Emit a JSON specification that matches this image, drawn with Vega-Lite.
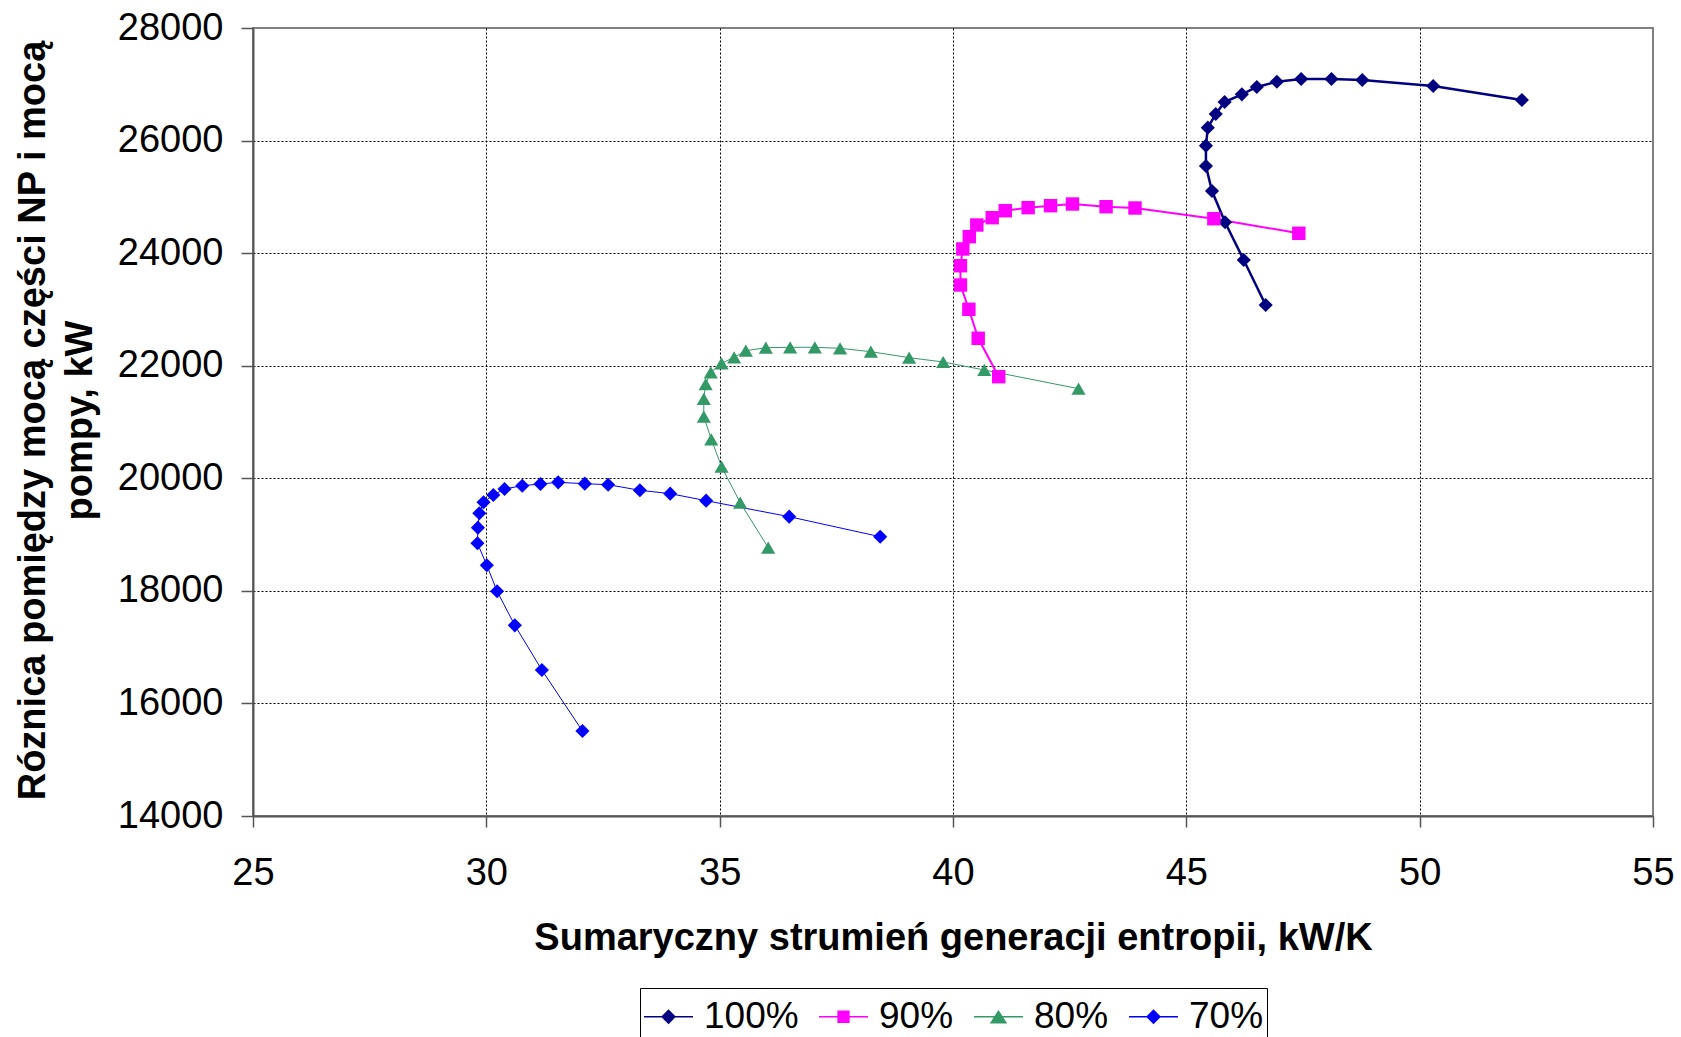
{
  "$schema": "https://vega.github.io/schema/vega-lite/v6.json",
  "autosize": {"type": "none"},
  "width": 1400,
  "height": 788,
  "padding": {"left": 253, "top": 28, "right": 28, "bottom": 221},
  "background": "white",
  "config": {
    "view": {"stroke": "#808080", "strokeWidth": 2},
    "font": "Liberation Sans",
    "axis": {
      "labelFont": "Liberation Sans",
      "labelFontSize": 38,
      "labelColor": "#000",
      "titleFont": "Liberation Sans",
      "titleFontSize": 38,
      "titleFontWeight": "bold",
      "titleColor": "#000",
      "domainColor": "#555",
      "domainWidth": 2,
      "tickColor": "#555",
      "tickWidth": 1.5,
      "gridColor": "#000",
      "gridWidth": 1,
      "gridDash": [2, 2]
    }
  },
  "data": {
    "values": [
      {"s": "100%", "i": 1, "x": 46.70, "y": 23079},
      {"s": "100%", "i": 2, "x": 46.23, "y": 23878},
      {"s": "100%", "i": 3, "x": 45.83, "y": 24548},
      {"s": "100%", "i": 4, "x": 45.55, "y": 25104},
      {"s": "100%", "i": 5, "x": 45.42, "y": 25548},
      {"s": "100%", "i": 6, "x": 45.42, "y": 25909},
      {"s": "100%", "i": 7, "x": 45.46, "y": 26229},
      {"s": "100%", "i": 8, "x": 45.63, "y": 26472},
      {"s": "100%", "i": 9, "x": 45.82, "y": 26685},
      {"s": "100%", "i": 10, "x": 46.19, "y": 26822},
      {"s": "100%", "i": 11, "x": 46.51, "y": 26952},
      {"s": "100%", "i": 12, "x": 46.94, "y": 27046},
      {"s": "100%", "i": 13, "x": 47.46, "y": 27094},
      {"s": "100%", "i": 14, "x": 48.11, "y": 27094},
      {"s": "100%", "i": 15, "x": 48.77, "y": 27076},
      {"s": "100%", "i": 16, "x": 50.29, "y": 26970},
      {"s": "100%", "i": 17, "x": 52.19, "y": 26721},
      {"s": "90%", "i": 1, "x": 40.98, "y": 21805},
      {"s": "90%", "i": 2, "x": 40.54, "y": 22487},
      {"s": "90%", "i": 3, "x": 40.34, "y": 23002},
      {"s": "90%", "i": 4, "x": 40.16, "y": 23434},
      {"s": "90%", "i": 5, "x": 40.16, "y": 23777},
      {"s": "90%", "i": 6, "x": 40.21, "y": 24074},
      {"s": "90%", "i": 7, "x": 40.35, "y": 24293},
      {"s": "90%", "i": 8, "x": 40.51, "y": 24500},
      {"s": "90%", "i": 9, "x": 40.84, "y": 24630},
      {"s": "90%", "i": 10, "x": 41.12, "y": 24754},
      {"s": "90%", "i": 11, "x": 41.61, "y": 24808},
      {"s": "90%", "i": 12, "x": 42.09, "y": 24843},
      {"s": "90%", "i": 13, "x": 42.56, "y": 24873},
      {"s": "90%", "i": 14, "x": 43.28, "y": 24825},
      {"s": "90%", "i": 15, "x": 43.90, "y": 24802},
      {"s": "90%", "i": 16, "x": 45.59, "y": 24612},
      {"s": "90%", "i": 17, "x": 47.41, "y": 24353},
      {"s": "80%", "i": 1, "x": 36.04, "y": 18767},
      {"s": "80%", "i": 2, "x": 35.44, "y": 19567},
      {"s": "80%", "i": 3, "x": 35.04, "y": 20207},
      {"s": "80%", "i": 4, "x": 34.82, "y": 20693},
      {"s": "80%", "i": 5, "x": 34.66, "y": 21095},
      {"s": "80%", "i": 6, "x": 34.66, "y": 21409},
      {"s": "80%", "i": 7, "x": 34.70, "y": 21675},
      {"s": "80%", "i": 8, "x": 34.81, "y": 21883},
      {"s": "80%", "i": 9, "x": 35.04, "y": 22043},
      {"s": "80%", "i": 10, "x": 35.31, "y": 22149},
      {"s": "80%", "i": 11, "x": 35.56, "y": 22267},
      {"s": "80%", "i": 12, "x": 35.99, "y": 22320},
      {"s": "80%", "i": 13, "x": 36.51, "y": 22327},
      {"s": "80%", "i": 14, "x": 37.04, "y": 22327},
      {"s": "80%", "i": 15, "x": 37.58, "y": 22309},
      {"s": "80%", "i": 16, "x": 38.24, "y": 22249},
      {"s": "80%", "i": 17, "x": 39.06, "y": 22143},
      {"s": "80%", "i": 18, "x": 39.79, "y": 22066},
      {"s": "80%", "i": 19, "x": 40.67, "y": 21924},
      {"s": "80%", "i": 20, "x": 42.69, "y": 21592},
      {"s": "70%", "i": 1, "x": 32.06, "y": 15510},
      {"s": "70%", "i": 2, "x": 31.19, "y": 16594},
      {"s": "70%", "i": 3, "x": 30.61, "y": 17388},
      {"s": "70%", "i": 4, "x": 30.23, "y": 17993},
      {"s": "70%", "i": 5, "x": 30.01, "y": 18455},
      {"s": "70%", "i": 6, "x": 29.81, "y": 18846},
      {"s": "70%", "i": 7, "x": 29.82, "y": 19123},
      {"s": "70%", "i": 8, "x": 29.85, "y": 19379},
      {"s": "70%", "i": 9, "x": 29.94, "y": 19574},
      {"s": "70%", "i": 10, "x": 30.15, "y": 19703},
      {"s": "70%", "i": 11, "x": 30.39, "y": 19810},
      {"s": "70%", "i": 12, "x": 30.77, "y": 19868},
      {"s": "70%", "i": 13, "x": 31.16, "y": 19898},
      {"s": "70%", "i": 14, "x": 31.54, "y": 19928},
      {"s": "70%", "i": 15, "x": 32.11, "y": 19904},
      {"s": "70%", "i": 16, "x": 32.61, "y": 19886},
      {"s": "70%", "i": 17, "x": 33.29, "y": 19787},
      {"s": "70%", "i": 18, "x": 33.94, "y": 19727},
      {"s": "70%", "i": 19, "x": 34.71, "y": 19602},
      {"s": "70%", "i": 20, "x": 36.49, "y": 19318},
      {"s": "70%", "i": 21, "x": 38.44, "y": 18962}
    ]
  },
  "encoding": {
    "x": {
      "field": "x",
      "type": "quantitative",
      "scale": {"domain": [25, 55], "nice": false, "zero": false},
      "axis": {
        "values": [25, 30, 35, 40, 45, 50, 55],
        "tickSize": 11,
        "labelPadding": 27,
        "labelFlush": false,
        "gridOpacity": {"condition": {"test": "datum.value == 25 || datum.value == 55", "value": 0}, "value": 1},
        "title": "Sumaryczny strumień generacji entropii, kW/K",
        "titleX": 700,
        "titleY": 133,
        "titleAlign": "center",
        "titleBaseline": "alphabetic"
      }
    },
    "y": {
      "field": "y",
      "type": "quantitative",
      "scale": {"domain": [14000, 28000], "nice": false, "zero": false},
      "axis": {
        "values": [14000, 16000, 18000, 20000, 22000, 24000, 26000, 28000],
        "format": "d",
        "tickSize": 12,
        "labelPadding": 18,
        "labelFlush": false,
        "labelBaseline": "middle",
        "gridOpacity": {"condition": {"test": "datum.value == 14000 || datum.value == 28000", "value": 0}, "value": 1},
        "title": ["Róznica pomiędzy mocą części NP i mocą", "pompy, kW"],
        "titleLineHeight": 47,
        "titleAngle": -90,
        "titleX": -209,
        "titleY": 392,
        "titleAlign": "center",
        "titleBaseline": "alphabetic"
      }
    },
    "color": {
      "field": "s",
      "type": "nominal",
      "scale": {"domain": ["100%", "90%", "80%", "70%"], "range": ["#000080", "#FF00FF", "#339966", "#0000FF"]},
      "legend": {
        "title": null,
        "orient": "none",
        "legendX": 387,
        "legendY": 960,
        "direction": "horizontal",
        "columns": 4,
        "columnPadding": 17,
        "padding": 3,
        "strokeColor": "#000",
        "fillColor": "white",
        "symbolSize": 2401,
        "symbolOffset": 0,
        "symbolOpacity": 1,
        "symbolStrokeWidth": 1.5,
        "labelOffset": 10,
        "labelFont": "Liberation Sans",
        "labelFontSize": 37,
        "labelColor": "#000"
      }
    },
    "order": {"field": "i", "type": "quantitative"}
  },
  "layer": [
    {
      "transform": [{"filter": "datum.s === '100%'"}],
      "mark": {"type": "line", "strokeWidth": 2.5}
    },
    {
      "transform": [{"filter": "datum.s === '90%'"}],
      "mark": {"type": "line", "strokeWidth": 2}
    },
    {
      "transform": [{"filter": "datum.s === '80%'"}],
      "mark": {"type": "line", "strokeWidth": 1}
    },
    {
      "transform": [{"filter": "datum.s === '70%'"}],
      "mark": {"type": "line", "strokeWidth": 1}
    },
    {
      "transform": [{"filter": "datum.s === '100%'"}],
      "mark": {"type": "point", "shape": "diamond", "filled": true, "opacity": 1, "size": 200}
    },
    {
      "transform": [{"filter": "datum.s === '90%'"}],
      "mark": {"type": "point", "shape": "square", "filled": true, "opacity": 1, "size": 180}
    },
    {
      "transform": [{"filter": "datum.s === '80%'"}],
      "mark": {"type": "point", "shape": "triangle-up", "filled": true, "opacity": 1, "size": 200}
    },
    {
      "transform": [{"filter": "datum.s === '70%'"}],
      "mark": {"type": "point", "shape": "diamond", "filled": true, "opacity": 1, "size": 200}
    },
    {
      "mark": {"type": "point", "filled": false, "opacity": 0, "size": 2401},
      "encoding": {
        "shape": {
          "field": "s",
          "type": "nominal",
          "scale": {
            "domain": ["100%", "90%", "80%", "70%"],
            "range": [
              "M-1,0H1M-0.26,0L0,-0.26L0.26,0L0,0.26Z",
              "M-1,0H1M-0.22,-0.22H0.22V0.22H-0.22Z",
              "M-1,0H1M-0.3,0.24H0.3L0,-0.22Z",
              "M-1,0H1M-0.26,0L0,-0.26L0.26,0L0,0.26Z"
            ]
          }
        }
      }
    }
  ]
}
